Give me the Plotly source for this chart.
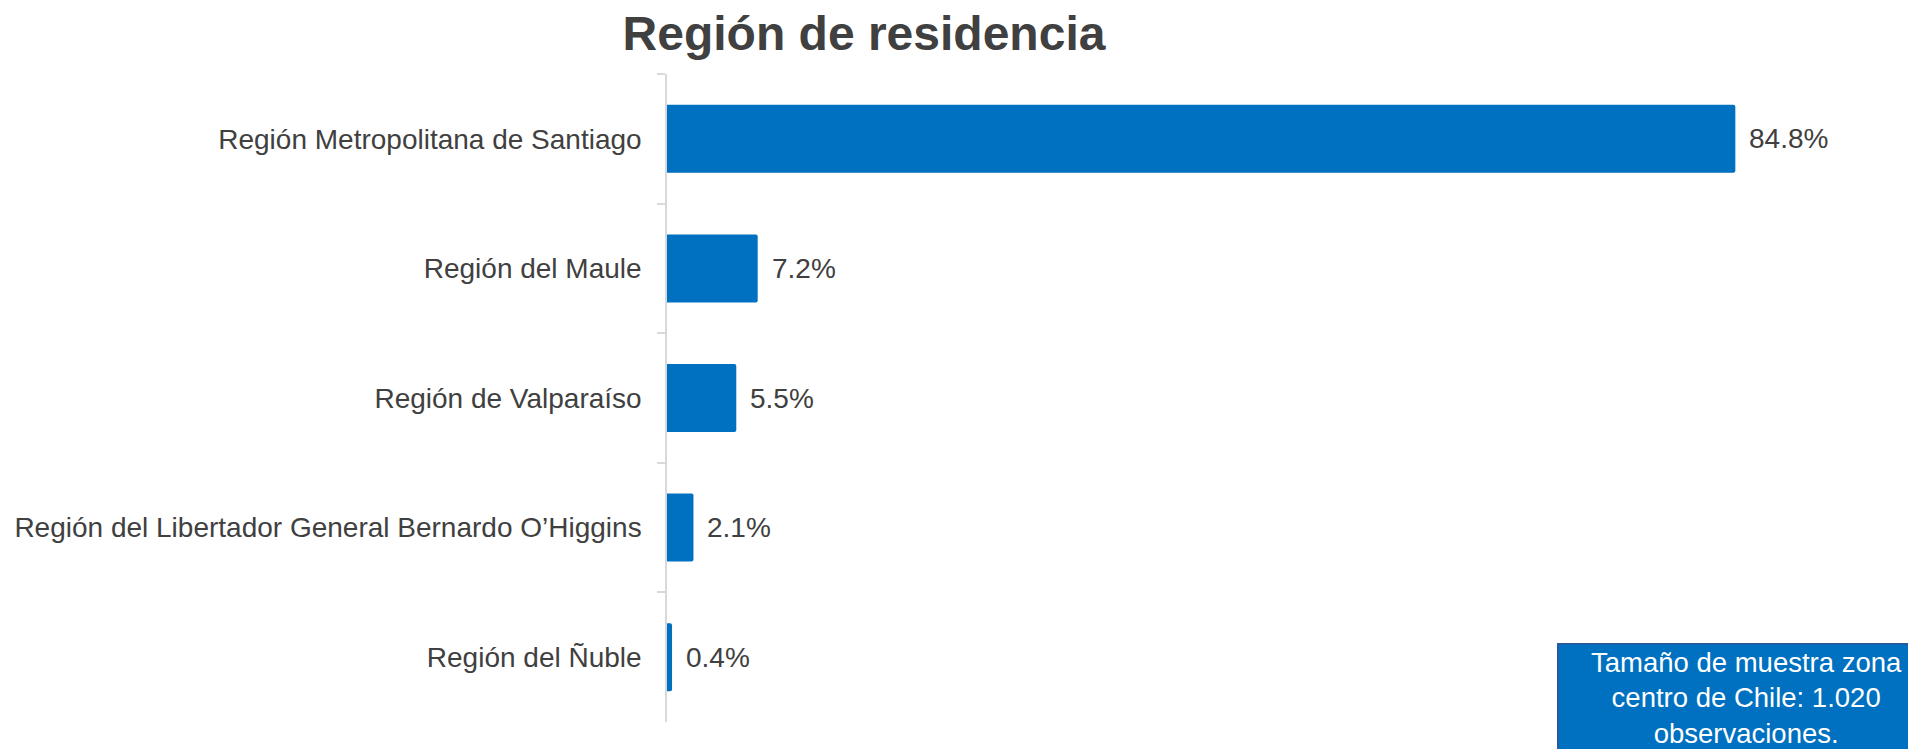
import plotly.graph_objects as go

categories = [
    "Región Metropolitana de Santiago",
    "Región del Maule",
    "Región de Valparaíso",
    "Región del Libertador General Bernardo O’Higgins",
    "Región del Ñuble",
]
values = [84.8, 7.2, 5.5, 2.1, 0.4]
value_labels = ["84.8%", "7.2%", "5.5%", "2.1%", "0.4%"]

title_text = "Región de residencia"
note_text = "Tamaño de muestra zona<br>centro de Chile: 1.020<br>observaciones."

BLUE = "#0070c0"
GRAY_TEXT = "#404040"
AXIS_GRAY = "#d9d9d9"
FONT = "Liberation Sans, Arial, sans-serif"

W, H = 1908, 749
ML, MR, MT, MB = 667, 58, 74, 27

fig = go.Figure()
fig.add_trace(go.Bar(
    x=values,
    y=categories,
    orientation="h",
    marker=dict(color=BLUE, line=dict(width=0)),
    hoverinfo="skip",
))

for v, cat, lab in zip(values, categories, value_labels):
    fig.add_annotation(
        x=v, y=cat, xref="x", yref="y",
        text=lab, showarrow=False,
        xanchor="left", yanchor="middle", xshift=12,
        font=dict(family=FONT, size=28, color=GRAY_TEXT),
    )

plot_w = W - ML - MR
plot_h = H - MT - MB
box_left_px = 1557
box_top_px = 643
fig.add_annotation(
    xref="paper", yref="paper",
    x=(box_left_px - ML) / plot_w,
    y=(H - MB - box_top_px) / plot_h,
    xanchor="left", yanchor="top",
    text=note_text, showarrow=False,
    align="center",
    width=372,
    bgcolor=BLUE,
    bordercolor="#2f5597",
    borderwidth=1.5,
    borderpad=2,
    font=dict(family=FONT, size=27.5, color="white"),
)

fig.update_layout(
    width=W, height=H,
    margin=dict(l=ML, r=MR, t=MT, b=MB, pad=0),
    paper_bgcolor="white",
    plot_bgcolor="white",
    bargap=0.475,
    barcornerradius=2,
    showlegend=False,
    title=dict(
        text="<b>" + title_text + "</b>",
        x=864 / W, xanchor="center",
        y=1 - 33 / H, yanchor="middle",
        xref="container", yref="container",
        font=dict(family=FONT, size=48, color=GRAY_TEXT),
    ),
    xaxis=dict(
        range=[0, 93.9],
        visible=False,
        showgrid=False,
        zeroline=False,
        fixedrange=True,
    ),
    yaxis=dict(
        autorange="reversed",
        showline=True,
        linecolor=AXIS_GRAY,
        linewidth=1.5,
        ticks="outside",
        tickson="boundaries",
        ticklen=8,
        tickwidth=1.5,
        tickcolor=AXIS_GRAY,
        ticklabelstandoff=18,
        showgrid=False,
        zeroline=False,
        tickfont=dict(family=FONT, size=28, color=GRAY_TEXT),
        fixedrange=True,
    ),
)

fig.write_html(
    "out.html",
    config={"displayModeBar": False},
    post_script="document.body.style.margin='0';document.body.style.overflow='hidden';",
)
